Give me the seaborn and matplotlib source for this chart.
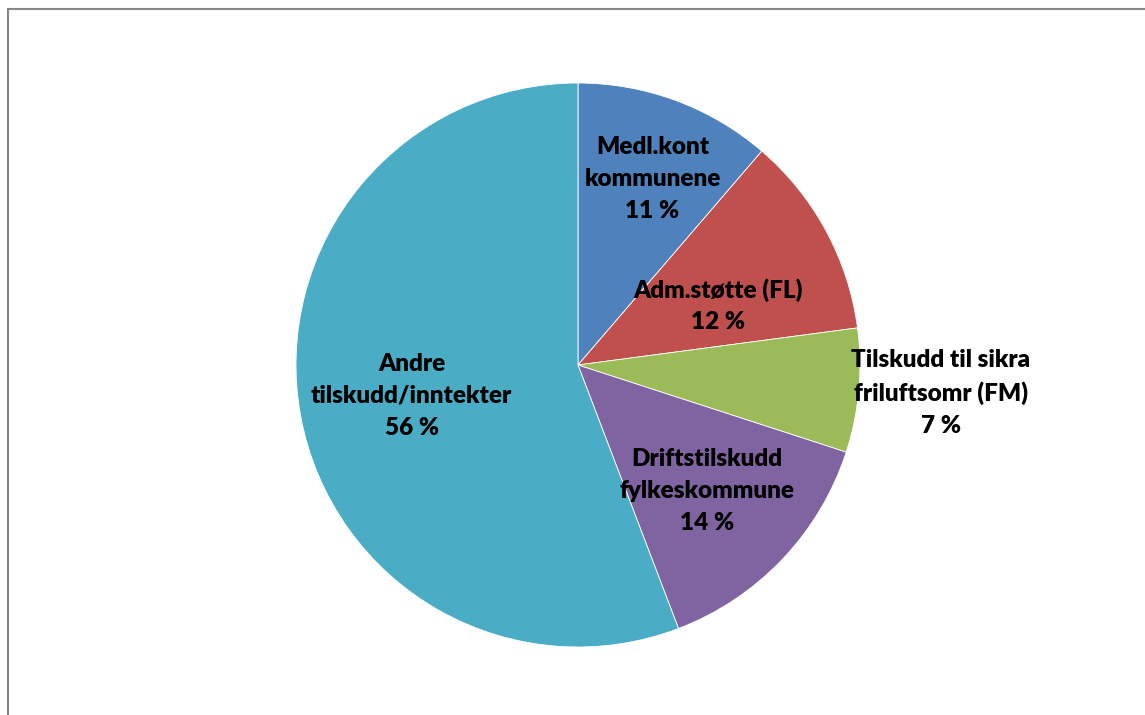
import matplotlib.pyplot as plt
import numpy as np
import seaborn as sns
from matplotlib.patches import Rectangle

sns.set_theme(style="white")
plt.rcParams['font.family'] = ['Lato', 'DejaVu Sans']

# andel av inntekter (lest av figuren)
categories = ['Medl.kont\nkommunene', 'Adm.støtte (FL)',
              'Tilskudd til sikra\nfriluftsomr (FM)',
              'Driftstilskudd\nfylkeskommune', 'Andre\ntilskudd/inntekter']
shares = [11.3, 11.6, 7.1, 14.2, 55.8]
pct_labels = ['11 %', '12 %', '7 %', '14 %', '56 %']
colours = ['#4F81BD', '#C0504D', '#9BBB59', '#8064A2', '#4BACC6']
# etikettplassering: avstand fra sentrum (andel av radius) og vinkeljustering
label_r = [0.71, 0.54, 1.29, 0.64, 0.60]
label_dtheta = [-1.5, -5.5, 0.8, -0.7, 0.0]

W, H = 1145, 715
cx, cy, R = 578, 365, 282

fig = plt.figure(figsize=(W / 100, H / 100), dpi=100)
ax = fig.add_axes([0, 0, 1, 1])
palette = sns.color_palette(colours)

wedges, _ = ax.pie(shares, colors=palette, startangle=90, counterclock=False,
                   radius=1, center=(0, 0),
                   wedgeprops={'edgecolor': 'white', 'linewidth': 0.6})

for w, name, pct, r, dt in zip(wedges, categories, pct_labels,
                               label_r, label_dtheta):
    mid = np.deg2rad((w.theta1 + w.theta2) / 2 + dt)
    ax.text(r * np.cos(mid), r * np.sin(mid), f'{name}\n{pct}',
            ha='center', va='center', fontsize=17.5, fontweight='heavy',
            color='black', linespacing=1.55)

ax.set_xlim(-cx / R, (W - cx) / R)
ax.set_ylim(-(H - cy) / R, cy / R)
ax.set_aspect('auto')
ax.axis('off')

# ramme rundt diagramområdet
fig.patches.append(Rectangle((8 / W, -0.1), 1.2, 1.1 - 9 / H,
                             transform=fig.transFigure, fill=False,
                             edgecolor='#888888', linewidth=1.5))

fig.savefig('out.png', dpi=100)
